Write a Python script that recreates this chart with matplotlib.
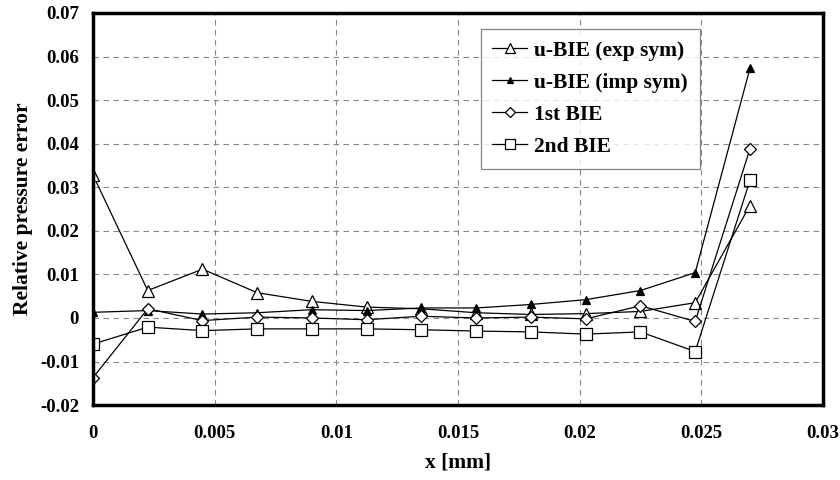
import matplotlib
matplotlib.use("Agg")
import matplotlib.pyplot as plt
from matplotlib.ticker import FuncFormatter

x_mm = [0.0, 0.00225, 0.0045, 0.00675, 0.009, 0.01125, 0.0135,
        0.01575, 0.018, 0.02025, 0.0225, 0.02475, 0.027]
exp_sym = [0.0328, 0.0063, 0.0112, 0.0058, 0.0038, 0.0025, 0.0021,
           0.0012, 0.0008, 0.0010, 0.0015, 0.0035, 0.0258]
imp_sym = [0.0013, 0.0017, 0.0009, 0.0012, 0.0019, 0.0017, 0.0023,
           0.0023, 0.0031, 0.0042, 0.0063, 0.0104, 0.0573]
bie1 = [-0.0137, 0.0021, -0.0006, 0.0002, 0.0000, -0.0004, 0.0004,
        0.0000, 0.0002, -0.0002, 0.0028, -0.0008, 0.0388]
bie2 = [-0.0060, -0.0021, -0.0029, -0.0025, -0.0025, -0.0025, -0.0027,
        -0.0030, -0.0032, -0.0037, -0.0032, -0.0077, 0.0316]

x_ticks = [0, 0.005, 0.01, 0.015, 0.02, 0.025, 0.03]
y_ticks = [-0.02, -0.01, 0, 0.01, 0.02, 0.03, 0.04, 0.05, 0.06, 0.07]

plt.rcParams["font.family"] = ["Liberation Serif", "DejaVu Serif"]
plt.rcParams["font.weight"] = "bold"

fig = plt.figure(figsize=(8.4, 4.8), dpi=100)
ax = fig.add_axes([0.1107, 0.156, 0.869, 0.817])

series = (
    (exp_sym, "^", "white", "u-BIE (exp sym)", 9),
    (imp_sym, "^", "black", "u-BIE (imp sym)", 6),
    (bie1, "D", "white", "1st BIE", 6.5),
    (bie2, "s", "white", "2nd BIE", 9),
)
for y, mk, fc, label, ms in series:
    ax.plot(x_mm, y, color="black", linewidth=0.9, marker=mk,
            markerfacecolor=fc, markeredgecolor="black", markersize=ms,
            markeredgewidth=0.9, label=label)

ax.set_xlim(0, 0.03)
ax.set_ylim(-0.02, 0.07)
ax.set_xticks(x_ticks)
ax.set_yticks(y_ticks)

def fmt(v, _pos):
    if abs(v) < 1e-12:
        return "0"
    return f"{v:g}"

ax.xaxis.set_major_formatter(FuncFormatter(fmt))
ax.yaxis.set_major_formatter(FuncFormatter(fmt))
ax.tick_params(length=0, labelsize=13.5)
ax.tick_params(axis="x", pad=14)
ax.tick_params(axis="y", pad=10)
for lbl in ax.get_xticklabels() + ax.get_yticklabels():
    lbl.set_fontweight("bold")

ax.grid(True, color="#888888", linestyle=(0, (5, 4)), linewidth=0.8)
for sp in ax.spines.values():
    sp.set_linewidth(2.5)
    sp.set_color("black")

ax.set_xlabel("x [mm]", fontsize=15.5, fontweight="bold", labelpad=8)
ax.set_ylabel("Relative pressure error", fontsize=15.5, fontweight="bold", labelpad=5)

leg = ax.legend(loc="upper left", bbox_to_anchor=(0.531, 0.959),
                frameon=True, fancybox=False, handlelength=1.6,
                handletextpad=0.35, borderpad=0.55, labelspacing=0.55,
                borderaxespad=0, markerscale=0.75,
                prop={"weight": "bold", "size": 15.5})
leg.get_frame().set_edgecolor("#666666")
leg.get_frame().set_linewidth(0.9)

fig.savefig("out.png", dpi=100)
